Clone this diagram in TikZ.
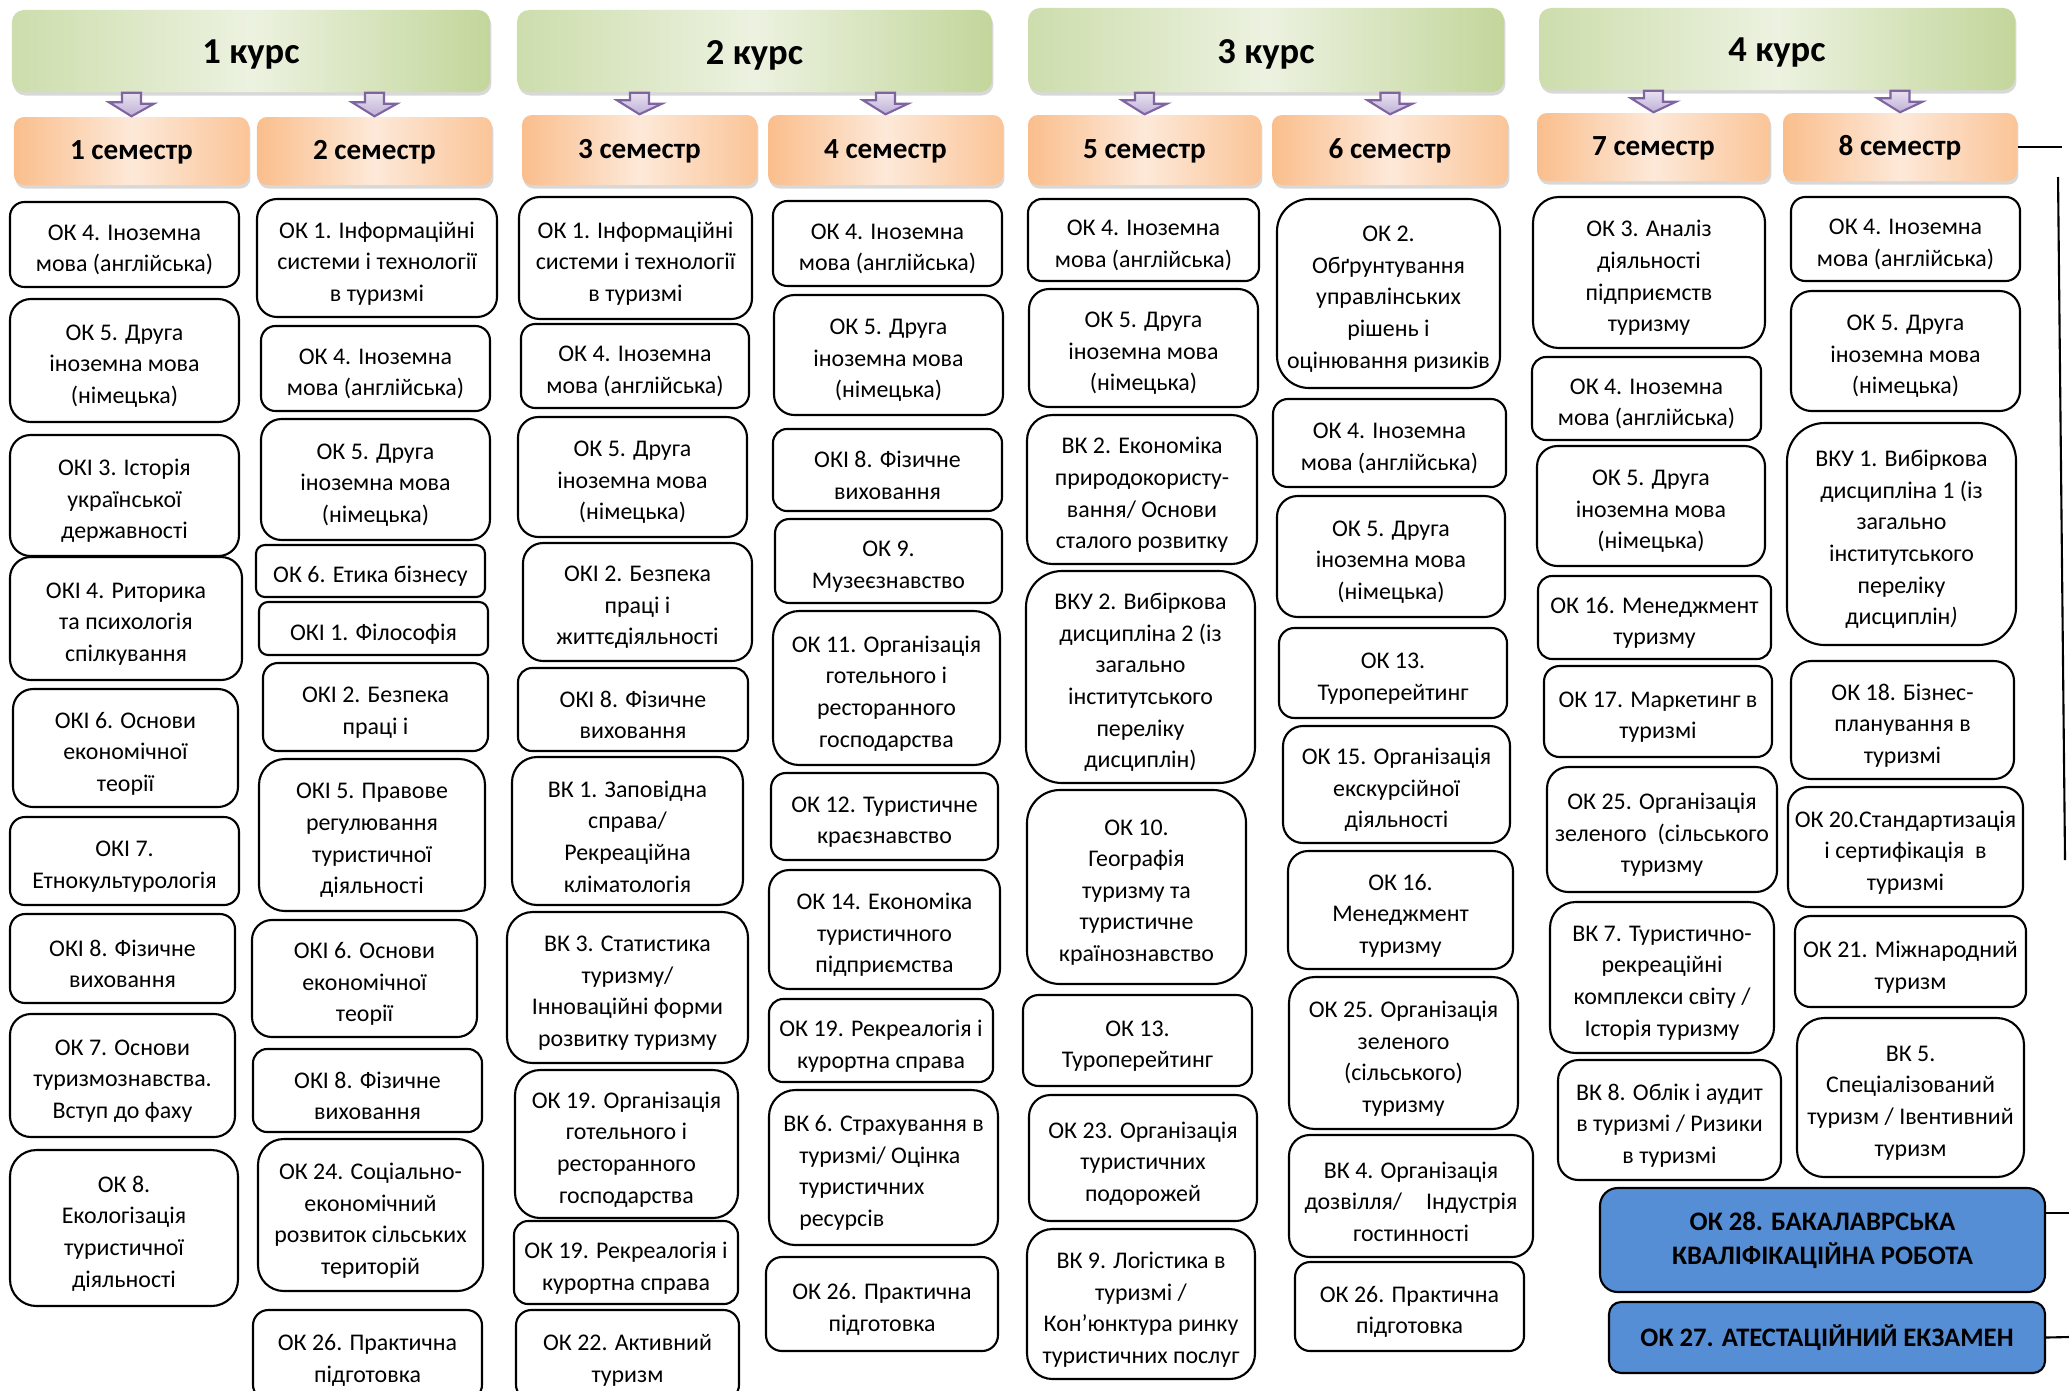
\documentclass[tikz,border=0pt]{standalone}
\usepackage{fontspec}
\setmainfont{Carlito}
\usetikzlibrary{shadows}

\definecolor{kursdark}{RGB}{195,214,155}
\definecolor{kurslight}{RGB}{236,242,224}
\definecolor{semdark}{RGB}{250,190,140}
\definecolor{semlight}{RGB}{253,233,217}
\definecolor{arrlight}{RGB}{232,226,240}
\definecolor{arrdark}{RGB}{190,176,214}
\definecolor{arrline}{RGB}{128,100,162}
\definecolor{finblue}{RGB}{85,142,213}

\tikzset{
  subj/.style={draw, line width=0.6pt, fill=white, inner sep=0pt},
  subjtxt/.style={align=center, inner sep=0pt, yshift=-0.55mm, font=\fontsize{6.8}{9}\selectfont},
  subjl/.style={subj},
  subjltxt/.style={subjtxt, align=left},
  kurs/.style={rounded corners=1.2mm, left color=kursdark!75!kurslight, right color=kursdark,
    middle color=kurslight, inner sep=0pt,
    drop shadow={shadow xshift=0.4pt, shadow yshift=-1pt, opacity=0.3}},
  kurstxt/.style={inner sep=0pt, yshift=-0.4mm, font=\fontsize{10.4}{12}\selectfont\bfseries},
  semestr/.style={rounded corners=1mm, left color=semdark, right color=semdark!85!semlight,
    middle color=semlight, inner sep=0pt,
    drop shadow={shadow xshift=0.4pt, shadow yshift=-1pt, opacity=0.3}},
  semestrtxt/.style={inner sep=0pt, yshift=-0.1mm, font=\fontsize{8.3}{10}\selectfont\bfseries},
  final/.style={subj, fill=finblue},
  finaltxt/.style={align=center, inner sep=0pt, font=\fontsize{7.6}{9.7}\selectfont\bfseries},
  semarr/.style={draw=arrline, line width=0.6pt, top color=arrlight, bottom color=arrdark},
  bracket/.style={line width=0.6pt}
}

% box from (x1,y1) to (x2,y2), in pixels of the page, and its text
\newcommand{\cell}[7][subj]{%
  \pgfmathsetmacro{\cellw}{(#5-#3)*0.1}%
  \pgfmathsetmacro{\cellh}{(#6-#4)*0.1}%
  \pgfmathsetmacro{\cellr}{min(\cellw,\cellh)*0.17}%
  \node[rounded corners=\cellr mm, minimum width=\cellw mm, minimum height=\cellh mm, #1]
    (#2) at ({(#3+#5)/2},{(#4+#6)/2}) {};%
  \node[#1txt] (#2t) at (#2.center) {#7};%
}
% purple block arrow from a course to a semester
\newcommand{\semarrow}[2]{%
  \draw[semarr] (#1.south -| #2.north) ++(-9.5,0) -- ++(19,0) -- ++(0,11) -- ++(13,0)
    -- (#2.north) -- ++(-22.5,-14) -- ++(13,0) -- cycle;%
}

\begin{document}
\begin{tikzpicture}[x=0.1mm, y=-0.1mm]
  \useasboundingbox (0,0) rectangle (2069,1390);
  \fill[white] (0,0) rectangle (2069,1390);
  \clip (0,0) rectangle (2069,1390);

  % courses
  \cell[kurs]{k1}{12}{10}{490}{92}{1 курс}
  \cell[kurs]{k2}{517}{10}{992}{92}{2 курс}
  \cell[kurs]{k3}{1028}{8}{1504}{92}{3 курс}
  \cell[kurs]{k4}{1539}{8}{2015}{90}{4 курс}

  % semesters
  \cell[semestr]{sem1}{14}{117}{249}{185}{1 семестр}
  \cell[semestr]{sem2}{257}{117}{492}{185}{2 семестр}
  \cell[semestr]{sem3}{522}{115}{757}{185}{3 семестр}
  \cell[semestr]{sem4}{768}{115}{1003}{185}{4 семестр}
  \cell[semestr]{sem5}{1028}{115}{1261}{185}{5 семестр}
  \cell[semestr]{sem6}{1272}{115}{1508}{185}{6 семестр}
  \cell[semestr]{sem7}{1537}{113}{1770}{181}{7 семестр}
  \cell[semestr]{sem8}{1783}{113}{2017}{181}{8 семестр}

  \semarrow{k1}{sem1} \semarrow{k1}{sem2}
  \semarrow{k2}{sem3} \semarrow{k2}{sem4}
  \semarrow{k3}{sem5} \semarrow{k3}{sem6}
  \semarrow{k4}{sem7} \semarrow{k4}{sem8}

  % 1 semester
  \cell{c1a}{10}{202}{239}{287}{ОК 4. Іноземна\\мова (англійська)}
  \cell{c1b}{10}{299}{239}{422}{ОК 5. Друга\\іноземна мова\\(німецька)}
  \cell{c1c}{10}{435}{239}{556}{ОКІ 3. Історія\\української\\державності}
  \cell{c1d}{10}{557}{242}{680}{ОКІ 4. Риторика\\та психологія\\спілкування}
  \cell{c1e}{13}{689}{238}{807}{ОКІ 6. Основи\\економічної\\теорії}
  \cell{c1f}{10}{817}{239}{905}{ОКІ 7.\\Етнокультурологія}
  \cell{c1g}{10}{914}{235}{1003}{ОКІ 8. Фізичне\\виховання}
  \cell{c1h}{10}{1014}{235}{1137}{ОК 7. Основи\\туризмознавства.\\Вступ до фаху}
  \cell{c1i}{10}{1150}{238}{1306}{ОК 8.\\Екологізація\\туристичної\\діяльності}

  % 2 semester
  \cell{c2a}{257}{199}{497}{317}{ОК 1. Інформаційні\\системи і технології\\в туризмі}
  \cell{c2b}{261}{326}{490}{411}{ОК 4. Іноземна\\мова (англійська)}
  \cell{c2c}{261}{419}{490}{540}{ОК 5. Друга\\іноземна мова\\(німецька)}
  \cell{c2d}{256}{545}{485}{597}{ОК 6. Етика бізнесу}
  \cell{c2e}{259}{602}{488}{655}{ОКІ 1. Філософія}
  \cell{c2f}{263}{663}{488}{751}{ОКІ 2. Безпека\\праці і}
  \cell{c2g}{259}{759}{485}{911}{ОКІ 5. Правове\\регулювання\\туристичної\\діяльності}
  \cell{c2h}{252}{920}{477}{1037}{ОКІ 6. Основи\\економічної\\теорії}
  \cell{c2i}{253}{1049}{482}{1132}{ОКІ 8. Фізичне\\виховання}
  \cell{c2j}{258}{1139}{483}{1291}{ОК 24. Соціально-\\економічний\\розвиток сільських\\територій}
  \cell{c2k}{253}{1310}{482}{1400}{ОК 26. Практична\\підготовка}

  % 3 semester
  \cell{c3a}{519}{197}{752}{319}{ОК 1. Інформаційні\\системи і технології\\в туризмі}
  \cell{c3b}{521}{324}{749}{408}{ОК 4. Іноземна\\мова (англійська)}
  \cell{c3c}{518}{417}{747}{537}{ОК 5. Друга\\іноземна мова\\(німецька)}
  \cell{c3d}{523}{543}{752}{661}{ОКІ 2. Безпека\\праці і\\життєдіяльності}
  \cell{c3e}{518}{668}{748}{751}{ОКІ 8. Фізичне\\виховання}
  \cell{c3f}{512}{757}{743}{905}{ВК 1. Заповідна\\справа/\\Рекреаційна\\кліматологія}
  \cell{c3g}{507}{912}{748}{1063}{ВК 3. Статистика\\туризму/\\Інноваційні форми\\розвитку туризму}
  \cell{c3h}{515}{1070}{738}{1218}{ОК 19. Організація\\готельного і\\ресторанного\\господарства}
  \cell{c3i}{514}{1221}{738}{1304}{ОК 19. Рекреалогія і\\курортна справа}
  \cell{c3j}{516}{1310}{739}{1400}{ОК 22. Активний\\туризм}

  % 4 semester
  \cell{c4a}{773}{201}{1002}{286}{ОК 4. Іноземна\\мова (англійська)}
  \cell{c4b}{774}{295}{1003}{415}{ОК 5. Друга\\іноземна мова\\(німецька)}
  \cell{c4c}{773}{429}{1002}{511}{ОКІ 8. Фізичне\\виховання}
  \cell{c4d}{775}{519}{1002}{603}{ОК 9.\\Музеєзнавство}
  \cell{c4e}{773}{611}{1000}{765}{ОК 11. Організація\\готельного і\\ресторанного\\господарства}
  \cell{c4f}{771}{773}{998}{860}{ОК 12. Туристичне\\краєзнавство}
  \cell{c4g}{769}{870}{1000}{989}{ОК 14. Економіка\\туристичного\\підприємства}
  \cell{c4h}{769}{999}{993}{1082}{ОК 19. Рекреалогія і\\курортна справа}
  \cell[subjl]{c4i}{769}{1090}{998}{1245}{ВК 6. Страхування в\\\hspace*{1.6mm}туризмі/ Оцінка\\\hspace*{1.6mm}туристичних\\\hspace*{1.6mm}ресурсів}
  \cell{c4j}{766}{1257}{998}{1351}{ОК 26. Практична\\підготовка}

  % 5 semester
  \cell{c5a}{1028}{199}{1259}{281}{ОК 4. Іноземна\\мова (англійська)}
  \cell{c5b}{1029}{289}{1258}{407}{ОК 5. Друга\\іноземна мова\\(німецька)}
  \cell{c5c}{1027}{415}{1257}{564}{ВК 2. Економіка\\природокористу-\\вання/ Основи\\сталого розвитку}
  \cell{c5d}{1026}{571}{1255}{783}{ВКУ 2. Вибіркова\\дисципліна 2 (із\\загально\\інститутського\\переліку\\дисциплін)}
  \cell{c5e}{1027}{790}{1246}{984}{ОК 10.\\Географія\\туризму та\\туристичне\\країнознавство}
  \cell{c5f}{1023}{995}{1252}{1086}{ОК 13.\\Туроперейтинг}
  \cell{c5g}{1029}{1095}{1257}{1221}{ОК 23. Організація\\туристичних\\подорожей}
  \cell{c5h}{1027}{1229}{1255}{1379}{ВК 9. Логістика в\\туризмі /\\Кон’юнктура ринку\\туристичних послуг}

  % 6 semester
  \cell{c6a}{1277}{199}{1500}{388}{ОК 2.\\Обґрунтування\\управлінських\\рішень і\\оцінювання ризиків}
  \cell{c6b}{1273}{399}{1506}{487}{ОК 4. Іноземна\\мова (англійська)}
  \cell{c6c}{1277}{496}{1505}{617}{ОК 5. Друга\\іноземна мова\\(німецька)}
  \cell{c6d}{1279}{628}{1507}{718}{ОК 13.\\Туроперейтинг}
  \cell{c6e}{1283}{726}{1510}{843}{ОК 15. Організація\\екскурсійної\\діяльності}
  \cell{c6f}{1288}{851}{1513}{969}{ОК 16.\\Менеджмент\\туризму}
  \cell{c6g}{1289}{977}{1518}{1129}{ОК 25. Організація\\зеленого\\(сільського)\\туризму}
  \cell{c6h}{1289}{1135}{1533}{1257}{ВК 4. Організація\\дозвілля/\quad Індустрія\\гостинності}
  \cell{c6i}{1295}{1262}{1524}{1351}{ОК 26. Практична\\підготовка}

  % 7 semester
  \cell{c7a}{1533}{197}{1765}{348}{ОК 3. Аналіз\\діяльності\\підприємств\\туризму}
  \cell{c7b}{1532}{357}{1761}{440}{ОК 4. Іноземна\\мова (англійська)}
  \cell{c7c}{1537}{446}{1765}{566}{ОК 5. Друга\\іноземна мова\\(німецька)}
  \cell{c7d}{1538}{576}{1771}{659}{ОК 16. Менеджмент\\туризму}
  \cell{c7e}{1544}{666}{1772}{757}{ОК 17. Маркетинг в\\туризмі}
  \cell{c7f}{1547}{767}{1777}{892}{ОК 25. Організація\\зеленого \ (сільського\\туризму}
  \cell{c7g}{1550}{902}{1774}{1053}{ВК 7. Туристично-\\рекреаційні\\комплекси світу /\\Історія туризму}
  \cell{c7h}{1558}{1060}{1781}{1180}{ВК 8. Облік і аудит\\в туризмі / Ризики\\в туризмі}

  % 8 semester
  \cell{c8a}{1791}{197}{2020}{281}{ОК 4. Іноземна\\мова (англійська)}
  \cell{c8b}{1791}{291}{2020}{411}{ОК 5. Друга\\іноземна мова\\(німецька)}
  \cell{c8c}{1787}{423}{2016}{645}{ВКУ 1. Вибіркова\\дисципліна 1 (із\\загально\\інститутського\\переліку\\дисциплін\textit{)}}
  \cell{c8d}{1791}{661}{2014}{779}{ОК 18. Бізнес-\\планування в\\туризмі}
  \cell{c8e}{1788}{787}{2023}{907}{ОК 20.Стандартизація\\і сертифікація \ в\\туризмі}
  \cell{c8f}{1795}{916}{2026}{1007}{ОК 21. Міжнародний\\туризм}
  \cell{c8g}{1797}{1018}{2024}{1177}{ВК 5.\\Спеціалізований\\туризм / Івентивний\\туризм}

  % final attestation
  \cell[final]{ok28}{1600}{1188}{2045}{1292}{ОК 28. БАКАЛАВРСЬКА\\КВАЛІФІКАЦІЙНА РОБОТА}
  \cell[final]{ok27}{1609}{1302}{2045}{1373}{ОК 27. АТЕСТАЦІЙНИЙ ЕКЗАМЕН}

  % bracket at the right edge
  \coordinate (br1) at (2062,147);
  \coordinate (br2) at (2058,177);
  \coordinate (br3) at (2065,860);
  \coordinate (br4) at (2069,1213);
  \coordinate (br5) at (2069,1337);
  \draw[bracket] (sem8.east) -- (br1);
  \draw[bracket] (br2) -- (br3);
  \draw[bracket] (br4 -| ok28.east) -- (br4);
  \draw[bracket] (ok27.east) -- (br5);
\end{tikzpicture}
\end{document}
